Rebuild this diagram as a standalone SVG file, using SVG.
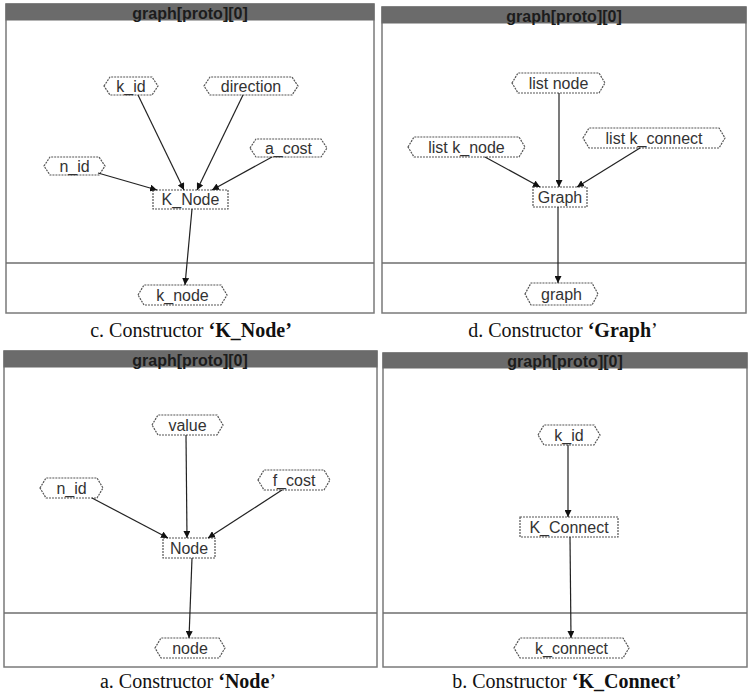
<svg xmlns="http://www.w3.org/2000/svg" width="751" height="692" viewBox="0 0 751 692">
<style>
.frame{fill:#fff;stroke:#7a7a7a;stroke-width:1.5}
.bar{fill:#6b6b6b;stroke:#6b6b6b;stroke-width:1}
.div{stroke:#6e6e6e;stroke-width:1.5}
.title{font-family:"Liberation Sans",Arial,sans-serif;font-size:16px;font-weight:bold;fill:#1c1c1c;text-anchor:middle}
.hex{fill:#fff;stroke:#555;stroke-width:1.2;stroke-dasharray:2 1}
.box{fill:#fff;stroke:#555;stroke-width:1.2;stroke-dasharray:2 1}
.lbl{font-family:"Liberation Sans",Arial,sans-serif;font-size:16px;fill:#333;text-anchor:middle}
.edge{stroke:#222;stroke-width:1.2;fill:none;marker-end:url(#ah)}
.cap{font-family:"Liberation Serif","Times New Roman",serif;font-size:20px;fill:#111;text-anchor:middle}
.b{font-weight:bold}
</style>
<defs>
<marker id="ah" viewBox="0 0 10 10" refX="10" refY="5" markerWidth="7" markerHeight="7" markerUnits="userSpaceOnUse" orient="auto">
<path d="M0,0 L10,5 L0,10 z" fill="#111"/>
</marker>
</defs>

<!-- Panel c -->
<g id="panel-c">
<rect class="frame" x="6" y="4" width="368" height="309"/>
<rect class="bar" x="6" y="4" width="368" height="16"/>
<text class="title" x="190" y="19">graph[proto][0]</text>
<line class="div" x1="6" y1="263" x2="374" y2="263"/>
</g>
<g id="c-k_id"><polygon class="hex" points="104,86 110,77 152,77 158,86 152,95 110,95"/><text class="lbl" x="131" y="92">k_id</text></g>
<g id="c-direction"><polygon class="hex" points="204,86 210,77 292,77 298,86 292,95 210,95"/><text class="lbl" x="251" y="92">direction</text></g>
<g id="c-a_cost"><polygon class="hex" points="250,148 256,139 321,139 327,148 321,157 256,157"/><text class="lbl" x="288.5" y="154">a_cost</text></g>
<g id="c-n_id"><polygon class="hex" points="44,166 50,157 99,157 105,166 99,175 50,175"/><text class="lbl" x="74.5" y="172">n_id</text></g>
<g id="c-K_Node"><rect class="box" x="153" y="190" width="75" height="19"/><text class="lbl" x="190.5" y="205">K_Node</text></g>
<g id="c-k_node"><polygon class="hex" points="138,295 144,285 221,285 227,295 221,305 144,305"/><text class="lbl" x="182.5" y="301">k_node</text></g>

<!-- Panel d -->
<g id="panel-d">
<rect class="frame" x="382" y="7" width="364" height="306"/>
<rect class="bar" x="382" y="7" width="364" height="16"/>
<text class="title" x="564" y="22">graph[proto][0]</text>
<line class="div" x1="382" y1="263" x2="746" y2="263"/>
</g>
<g id="d-list_node"><polygon class="hex" points="512,83 518,73 599,73 605,83 599,93 518,93"/><text class="lbl" x="558.5" y="89">list node</text></g>
<g id="d-list_k_node"><polygon class="hex" points="408,147 414,137 519,137 525,147 519,157 414,157"/><text class="lbl" x="466.5" y="153">list k_node</text></g>
<g id="d-list_k_connect"><polygon class="hex" points="583,138 589,128 719,128 725,138 719,148 589,148"/><text class="lbl" x="654" y="144">list k_connect</text></g>
<g id="d-Graph"><rect class="box" x="533" y="187" width="54" height="20"/><text class="lbl" x="560" y="203">Graph</text></g>
<g id="d-graph"><polygon class="hex" points="525,294 531,283 592,283 598,294 592,305 531,305"/><text class="lbl" x="561.5" y="300">graph</text></g>

<!-- Panel a -->
<g id="panel-a">
<rect class="frame" x="4" y="351" width="373" height="316"/>
<rect class="bar" x="4" y="351" width="373" height="16"/>
<text class="title" x="190" y="366">graph[proto][0]</text>
<line class="div" x1="4" y1="613" x2="377" y2="613"/>
</g>
<g id="a-value"><polygon class="hex" points="152,425 158,415 217,415 223,425 217,435 158,435"/><text class="lbl" x="187.5" y="431">value</text></g>
<g id="a-n_id"><polygon class="hex" points="40,488 46,478 97,478 103,488 97,498 46,498"/><text class="lbl" x="71.5" y="494">n_id</text></g>
<g id="a-f_cost"><polygon class="hex" points="258,480 264,470 324,470 330,480 324,490 264,490"/><text class="lbl" x="294" y="486">f_cost</text></g>
<g id="a-Node"><rect class="box" x="163" y="538" width="52" height="20"/><text class="lbl" x="189" y="554">Node</text></g>
<g id="a-node"><polygon class="hex" points="155,648 161,638 219,638 225,648 219,658 161,658"/><text class="lbl" x="190" y="654">node</text></g>

<!-- Panel b -->
<g id="panel-b">
<rect class="frame" x="383" y="353" width="364" height="314"/>
<rect class="bar" x="383" y="353" width="364" height="15"/>
<text class="title" x="565" y="367">graph[proto][0]</text>
<line class="div" x1="383" y1="613" x2="747" y2="613"/>
</g>
<g id="b-k_id"><polygon class="hex" points="538,435 544,425 594,425 600,435 594,445 544,445"/><text class="lbl" x="569" y="441">k_id</text></g>
<g id="b-K_Connect"><rect class="box" x="520" y="517" width="98" height="20"/><text class="lbl" x="569" y="533">K_Connect</text></g>
<g id="b-k_connect"><polygon class="hex" points="514,648 520,638 623,638 629,648 623,658 520,658"/><text class="lbl" x="571.5" y="654">k_connect</text></g>

<!-- Connectors -->
<g id="connectors">
<line class="edge" x1="138" y1="95" x2="184" y2="190"/>
<line class="edge" x1="243" y1="95" x2="197" y2="190"/>
<line class="edge" x1="272" y1="157" x2="212" y2="190"/>
<line class="edge" x1="98" y1="173" x2="157" y2="190"/>
<line class="edge" x1="192" y1="209" x2="185" y2="285"/>

<line class="edge" x1="559" y1="93" x2="559" y2="187"/>
<line class="edge" x1="485" y1="157" x2="540" y2="187"/>
<line class="edge" x1="640" y1="148" x2="577" y2="187"/>
<line class="edge" x1="558" y1="207" x2="558" y2="283"/>

<line class="edge" x1="186" y1="435" x2="187" y2="538"/>
<line class="edge" x1="92" y1="498" x2="168" y2="538"/>
<line class="edge" x1="282" y1="490" x2="208" y2="538"/>
<line class="edge" x1="192" y1="558" x2="189" y2="638"/>

<line class="edge" x1="568" y1="445" x2="568" y2="517"/>
<line class="edge" x1="570" y1="537" x2="571" y2="638"/>
</g>

<!-- Captions -->
<text class="cap" x="191" y="337">c. Constructor <tspan class="b">‘K_Node’</tspan></text>
<text class="cap" x="563" y="337">d. Constructor <tspan class="b">‘Graph</tspan>’</text>
<text class="cap" x="188" y="688">a. Constructor <tspan class="b">‘Node</tspan>’</text>
<text class="cap" x="567" y="688">b. Constructor <tspan class="b">‘K_Connect</tspan>’</text>
</svg>
